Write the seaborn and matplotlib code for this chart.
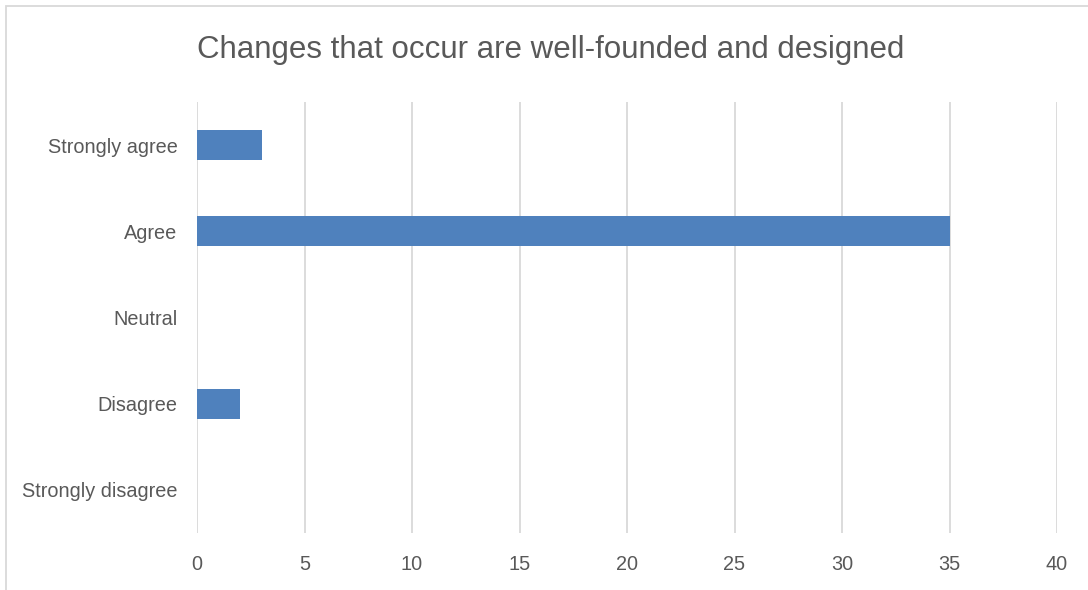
import matplotlib
matplotlib.use("Agg")
import matplotlib.pyplot as plt
import seaborn as sns
import pandas as pd
from matplotlib.patches import Rectangle

categories = ["Strongly agree", "Agree", "Neutral", "Disagree", "Strongly disagree"]
values = [3, 35, 0, 2, 0]
xticks = [0, 5, 10, 15, 20, 25, 30, 35, 40]
title = "Changes that occur are well-founded and designed"

sns.set_theme(style="white")
plt.rcParams['font.family'] = ["Liberation Sans", 'DejaVu Sans']

df = pd.DataFrame({"category": categories, "value": values})

W, H = 1088, 590
fig = plt.figure(figsize=(W / 100, H / 100), dpi=100)
ax = fig.add_axes([197 / W, 1 - 533 / H, (1057 - 197) / W, (533 - 102) / H])

sns.barplot(data=df, x="value", y="category", order=categories, color="#4F81BD",
            saturation=1, width=0.35, linewidth=0, ax=ax, zorder=3)

ax.set_xlim(0, 40)
ax.set_xticks(xticks)
ax.set_xticklabels([str(t) for t in xticks])
ax.grid(axis="x", color="#D9D9D9", linewidth=1.3, zorder=0)
ax.set_axisbelow(True)
for s in ax.spines.values():
    s.set_visible(False)
ax.set_xlabel("")
ax.set_ylabel("")
ax.tick_params(axis="both", length=0, labelsize=14.3, colors="#595959")
ax.tick_params(axis="x", pad=16)
ax.tick_params(axis="y", pad=14)

fig.text(551 / W, 1 - 50 / H, title, ha="center", va="center", fontsize=22.5, color="#595959")

fig.add_artist(Rectangle((6 / W, -0.1), 1.2, 1 - 6 / H + 0.1, transform=fig.transFigure,
                         fill=False, edgecolor="#D9D9D9", linewidth=1.3))

fig.savefig("out.png", dpi=100, facecolor="white")
